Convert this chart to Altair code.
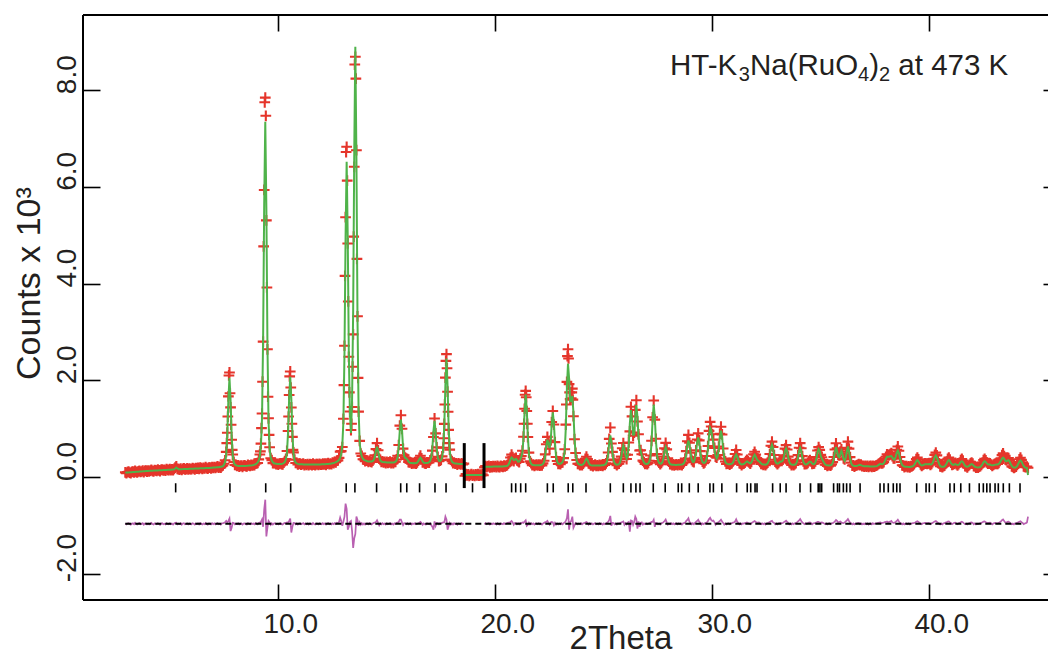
import altair as alt
import pandas as pd

# ---------------- data (counts) ----------------
TT_START = 2.95   # first 2theta of the pattern
TT_STEP = 0.05    # 2theta step of the pattern

# calculated profile, counts; one row per degree (first row 2.95, last row 44.00-44.55)
CALC_ROWS = [
    [85],
    [90, 92, 94, 95, 97, 99, 101, 102, 104, 106, 108, 109, 111, 113, 115, 116, 118, 120, 122, 123],
    [125, 126, 128, 129, 130, 131, 133, 134, 135, 136, 138, 139, 140, 141, 143, 144, 145, 146, 148, 149],
    [150, 151, 152, 153, 156, 175, 196, 177, 161, 159, 160, 161, 162, 163, 164, 165, 166, 167, 168, 169],
    [170, 171, 172, 173, 174, 175, 176, 177, 178, 179, 180, 181, 182, 183, 184, 185, 186, 187, 188, 189],
    [194, 196, 198, 200, 202, 203, 206, 209, 215, 225, 253, 310, 458, 885, 1607, 2051, 1590, 851, 444, 297],
    [258, 241, 234, 228, 228, 225, 226, 226, 227, 228, 229, 231, 234, 235, 237, 239, 241, 245, 254, 262],
    [277, 299, 343, 436, 650, 1221, 2859, 5636, 7346, 5567, 2720, 1154, 585, 408, 338, 302, 282, 276, 274, 268],
    [267, 267, 268, 270, 275, 285, 309, 362, 508, 925, 1635, 2072, 1617, 889, 489, 343, 298, 279, 271, 265],
    [264, 262, 261, 260, 259, 258, 258, 257, 257, 257, 257, 257, 257, 257, 258, 258, 258, 259, 259, 260],
    [262, 263, 264, 265, 266, 268, 270, 272, 275, 278, 284, 290, 297, 306, 318, 333, 354, 393, 474, 659],
    [1153, 2564, 4952, 6520, 4950, 2545, 1313, 910, 1598, 3450, 6715, 8900, 6609, 3243, 1392, 717, 505, 420, 377, 351],
    [342, 334, 326, 320, 320, 320, 321, 329, 351, 420, 535, 625, 531, 410, 343, 319, 311, 307, 305, 303],
    [300, 299, 299, 298, 299, 298, 301, 305, 317, 342, 414, 621, 971, 1187, 966, 611, 432, 390, 386, 357],
    [319, 297, 290, 288, 286, 287, 286, 287, 297, 327, 371, 400, 371, 323, 296, 287, 289, 291, 295, 306],
    [332, 402, 605, 948, 1160, 941, 591, 401, 337, 328, 346, 406, 575, 1068, 1905, 2450, 1883, 1023, 546, 374],
    [318, 296, 285, 278, 276, 273, 271, 270, 268, 267, 267, 265, 40, 40, 40, 40, 40, 40, 40, 40],
    [40, 40, 40, 40, 40, 40, 40, 40, 40, 40, 210, 210, 211, 211, 212, 212, 213, 213, 214, 214],
    [215, 215, 216, 216, 217, 217, 218, 218, 221, 222, 225, 232, 250, 292, 362, 401, 381, 349, 357, 375],
    [352, 316, 317, 359, 418, 513, 813, 1361, 1705, 1404, 845, 478, 332, 273, 251, 246, 241, 241, 242, 242],
    [240, 244, 247, 254, 271, 315, 433, 635, 769, 703, 600, 724, 1096, 1335, 1114, 700, 428, 322, 280, 268],
    [272, 285, 311, 374, 543, 1023, 1847, 2343, 2041, 1569, 1568, 1677, 1336, 811, 476, 340, 284, 263, 252, 250],
    [253, 263, 293, 346, 379, 349, 294, 259, 245, 239, 237, 237, 237, 237, 237, 238, 238, 239, 240, 241],
    [246, 255, 273, 323, 466, 708, 857, 733, 498, 343, 284, 261, 255, 257, 267, 298, 390, 553, 652, 579],
    [447, 381, 433, 673, 1103, 1382, 1194, 874, 877, 1238, 1488, 1248, 833, 608, 533, 440, 353, 299, 277, 270],
    [270, 283, 320, 420, 708, 1195, 1495, 1245, 770, 461, 337, 289, 275, 279, 306, 389, 531, 615, 541, 400],
    [308, 272, 257, 252, 251, 250, 249, 248, 251, 252, 253, 255, 259, 267, 289, 350, 475, 660, 755, 667],
    [482, 362, 311, 314, 374, 510, 716, 816, 716, 510, 372, 308, 289, 291, 321, 405, 580, 853, 1015, 964],
    [822, 703, 571, 440, 385, 427, 587, 835, 955, 829, 570, 395, 311, 281, 271, 265, 265, 266, 275, 297],
    [350, 426, 464, 426, 348, 295, 270, 259, 262, 268, 283, 308, 321, 308, 290, 281, 298, 345, 422, 460],
    [422, 371, 340, 326, 304, 279, 260, 257, 257, 255, 262, 281, 330, 435, 590, 666, 590, 434, 329, 284],
    [275, 283, 305, 319, 321, 340, 413, 535, 593, 529, 400, 312, 272, 256, 252, 252, 254, 269, 312, 402],
    [535, 600, 534, 401, 311, 271, 257, 261, 278, 304, 317, 307, 279, 264, 268, 300, 380, 506, 576, 540],
    [432, 377, 335, 295, 262, 245, 240, 238, 237, 240, 251, 292, 384, 519, 617, 531, 428, 408, 476, 542],
    [467, 369, 334, 403, 534, 630, 527, 386, 286, 245, 233, 228, 226, 228, 235, 244, 252, 243, 233, 225],
    [220, 220, 219, 219, 219, 218, 218, 218, 217, 217, 219, 223, 230, 244, 258, 270, 266, 265, 281, 325],
    [378, 417, 420, 418, 429, 433, 401, 362, 357, 417, 502, 546, 492, 392, 302, 250, 227, 217, 213, 211],
    [209, 208, 208, 212, 214, 224, 246, 284, 325, 346, 325, 283, 251, 236, 240, 252, 261, 262, 261, 262],
    [267, 259, 261, 285, 341, 407, 443, 406, 334, 269, 231, 213, 211, 211, 219, 243, 283, 328, 350, 328],
    [283, 258, 250, 258, 266, 256, 247, 251, 277, 311, 327, 308, 269, 233, 216, 211, 219, 235, 255, 265],
    [255, 233, 214, 203, 198, 196, 200, 209, 229, 264, 305, 325, 310, 281, 260, 258, 258, 245, 240, 240],
    [250, 255, 259, 260, 271, 298, 336, 377, 399, 373, 334, 322, 337, 346, 319, 269, 227, 203, 197, 193],
    [204, 229, 272, 320, 343, 319, 271, 227, 201, 189, 185, 40],
]

# observed minus calculated, counts, same grid
DIFF_ROWS = [
    [10],
    [-12, 8, 15, -5, -18, 4, 11, -9, 20, -3, -14, 6, 17, -8, -2, 13, -16, 5, 9, -11],
    [7, -13, 2, 18, -6, -15, 10, 4, -9, 16, -4, -19, 8, 12, -7, 3, -12, 14, -1, -10],
    [11, -8, 5, -14, 9, 20, 25, -10, 3, -6, 12, -17, 7, 15, -9, -3, 10, -12, 6, -5],
    [-9, 14, 3, -16, 8, -4, 12, -11, 17, 2, -13, 6, -7, 19, -2, -15, 9, 4, -10, 13],
    [-6, 10, -12, 5, 15, -8, 3, -14, 9, 12, 20, 35, 60, 30, 60, 110, -150, -80, 20, 15],
    [-10, 8, -5, 14, -12, 3, 9, -16, 6, 11, -7, -13, 15, 2, -9, 12, -4, 7, -11, 16],
    [5, -10, 20, 30, 40, 90, -60, 300, 500, -260, -80, 60, 30, -20, 10, -15, 8, 12, -9, 4],
    [-12, 7, 15, -6, -14, 9, 20, 10, 30, 25, 60, 110, -180, -60, 20, 15, -8, 10, -13, 6],
    [14, -9, 3, 16, -12, 5, -7, 11, -15, 8, 2, -10, 17, -4, -13, 9, 6, -11, 12, -3],
    [-8, 13, -5, 10, -14, 7, 16, -9, 3, -12, 11, -6, 15, -3, 20, 10, 40, 130, 60, -40],
    [50, 150, 420, 310, -120, -60, 40, 60, -150, -500, -300, -210, 150, 80, -40, 30, -20, 15, -12, 9],
    [-14, 6, 11, -8, 15, -5, -12, 9, 20, 30, 40, 75, 20, -30, 10, -9, 13, -6, 8, -15],
    [12, -7, 4, 17, -11, 6, -14, 9, -3, 20, 25, 40, 90, 90, 30, -25, 15, 10, -8, 13],
    [-10, 5, 14, -13, 8, -4, 16, -9, 3, 12, 25, 40, 15, -20, 9, -6, -12, 11, 4, -8],
    [10, -30, -60, -120, 50, -40, 20, 15, -10, 12, 8, 20, 30, 30, 150, 90, -120, -50, 20, -15],
    [9, -12, 14, -5, 7, -16, 10, 3, -9, 15, -6, 11, -15, 20, -8, 12, -20, 5, 18, -12],
    [10, -18, 15, -6, 20, -14, 8, -10, 16, -5, -11, 14, -7, 9, 18, -13, 5, -9, 12, -4],
    [8, -12, 15, -6, -14, 10, 3, -9, 13, -4, 7, 15, 25, 20, 40, 60, 30, -20, 15, 20],
    [-10, 12, -8, 20, 15, 30, 20, 50, 75, -40, -20, 25, -10, 14, -7, 9, -13, 6, 11, -5],
    [13, -9, 4, -14, 10, 20, 35, 40, 60, 20, -15, 30, 40, 30, -30, 20, -15, 8, -11, 6],
    [-7, 12, -10, 15, 30, 60, 120, 300, -120, 40, 60, 150, -80, -30, 20, 10, -12, 8, -6, 14],
    [-9, 10, 15, 30, 40, 20, -15, 12, -6, 9, -13, 5, 16, -8, 2, -11, 13, -4, 7, -14],
    [11, -6, 9, 25, 40, 80, 165, -40, 20, 15, -10, 8, -12, 14, 6, 20, 30, 40, 50, -20],
    [15, -10, 25, 40, -160, 70, 60, -20, 40, 150, 100, -100, 50, -60, 20, 30, -15, 10, -8, 12],
    [-6, 9, 15, 25, 40, 40, 85, -60, 20, 15, -10, 7, -12, 14, 20, 35, 60, 90, 30, -15],
    [10, -8, 13, -5, 9, -12, 6, 14, -9, 11, -4, 8, -13, 10, 15, 30, 60, 80, 115, 40],
    [20, -10, 12, -8, 20, 40, 60, 85, 40, 25, -15, 10, -6, 12, 20, 30, 60, 100, 125, 80],
    [60, 70, 30, -20, 15, 25, 40, 60, 85, 50, 20, -15, 9, -11, 6, 13, -8, 10, 12, 25],
    [30, 50, 95, 40, 20, -10, 8, -12, 10, 5, 15, 20, 30, 15, 9, -7, 12, 30, 45, 60],
    [40, 20, 25, 30, 10, -8, 11, -6, 9, -13, 7, 15, 25, 40, 55, 65, 30, 20, -10, 8],
    [-12, 10, 15, 20, 12, 18, 35, 50, 65, 40, 20, -10, 7, -9, 12, -5, 10, 15, 30, 50],
    [70, 100, 60, 30, 10, -8, 12, 7, 15, 25, 30, 15, -9, 10, 12, 20, 30, 40, 40, 20],
    [25, 30, 20, 10, -7, 9, -11, 6, 12, -5, 10, 15, 30, 50, 80, 60, 30, 40, 50, 30],
    [20, 15, 30, 50, 70, 100, 60, 25, 10, -9, 8, -12, 6, 10, 15, 20, -6, 11, -10, 7],
    [-8, 12, -5, 9, -13, 6, 10, -11, 14, -4, 7, 12, 15, 20, 25, 30, 15, 20, 25, 35],
    [40, 50, 30, 40, 45, 60, 30, 20, 25, 40, 60, 85, 50, 20, 10, -9, 8, -12, 6, 11],
    [-7, 10, -12, 6, 9, 15, 20, 30, 45, 55, 40, 20, 8, -6, 12, 15, 20, 15, 10, 18],
    [12, -8, 10, 20, 35, 50, 60, 40, 20, 10, -11, 7, -9, 12, 15, 25, 35, 45, 50, 30],
    [15, -6, 10, 20, 25, 10, -8, 12, 20, 35, 45, 30, 10, -9, 6, -12, 10, 15, 25, 30],
    [20, -8, 10, -12, 7, -5, 11, 15, 20, 35, 45, 50, 35, 20, 15, 20, 25, 10, -9, 8],
    [15, 20, 12, 10, 20, 35, 50, 75, 90, 60, 30, 25, 40, 45, 30, 10, -8, 6, -10, 9],
    [12, 20, 35, 45, 55, 35, 20, -6, 8, 15, 30, 150],
]

# extra observed points on the flanks of the strongest reflections
extra_tt = [7.625, 7.675, 7.725, 7.775, 7.825, 7.875,
            9.175, 9.225, 9.275, 9.325, 9.375, 9.425, 9.475, 9.525, 9.575,
            10.475, 10.525, 10.575, 10.625, 10.675,
            13.025, 13.075, 13.125, 13.175, 13.225, 13.275, 13.375, 13.425, 13.475, 13.525, 13.575, 13.625, 13.675,
            17.625, 17.675, 17.725, 17.775, 17.825, 17.875,
            21.325, 21.375, 21.425, 21.475,
            23.275, 23.325, 23.375, 23.425, 23.525, 23.575]
extra_obs = [700, 1250, 2100, 1730, 1080, 560,
             530, 1010, 1970, 4770, 7750, 7470, 3920, 1660, 870,
             1250, 2080, 1850, 1100, 560,
             1900, 4160, 6720, 6130, 3630, 1750, 1100, 2280, 4970, 8530, 8240, 4510, 2050,
             800, 1500, 2400, 2250, 1350, 700,
             1100, 1700, 1650, 1100,
             1500, 2500, 2450, 1750, 1750, 1600]

# reflection positions (2theta)
refl_tt = [5.27, 7.77, 9.42, 10.57, 13.13, 13.53, 14.53, 15.64, 15.92, 16.51, 17.22, 17.73, 18.95,
           20.75, 20.94, 21.17, 21.40, 22.40, 22.67, 23.36, 23.57, 24.18, 25.30, 25.90, 26.25, 26.48,
           26.67, 27.28, 27.83, 28.43, 28.59, 28.94, 29.35, 29.89, 30.05, 30.44, 31.12, 31.61, 31.77,
           31.97, 32.06, 32.78, 33.13, 33.40, 34.04, 34.53, 34.88, 34.96, 35.04, 35.59, 35.77, 35.86,
           36.04, 36.19, 36.35, 36.81, 37.73, 37.91, 38.11, 38.34, 38.50, 38.65, 39.42, 39.85, 40.00,
           40.27, 40.95, 41.15, 41.45, 41.85, 42.30, 42.49, 42.65, 42.80, 43.03, 43.18, 43.41, 43.69, 44.18]

excl_tt = [18.57, 19.48]          # limits of the excluded region
x_ticks = [10, 20, 30, 40]
y_ticks = [-2, 0, 2, 4, 6, 8]

# ---------------- layout constants ----------------
X_MIN, X_MAX = 1.0, 45.47
Y_MIN, Y_MAX = -2.545, 9.555
DIFF_OFFSET = -0.97
TICK_TOP, TICK_BOT = -0.13, -0.32
EXCL_TOP, EXCL_BOT = 0.70, -0.23
ZERO_START, ZERO_END = 2.95, 44.30

FONT = "Liberation Sans"
TXT = "#231f20"
RED = "#e5352b"
GREEN = "#4fb34a"
MAG = "#b960b1"
PLUS = "M-1,0L1,0M0,-1L0,1"

# ---------------- build tables ----------------
for i, row in enumerate(CALC_ROWS[1:-1]):
    if len(row) != 20 or len(DIFF_ROWS[i + 1]) != 20:
        raise ValueError(f"row {i+1} length {len(row)} / {len(DIFF_ROWS[i+1])}")
y_calc = [v for r in CALC_ROWS for v in r]
y_diff = [v for r in DIFF_ROWS for v in r]
if len(y_calc) != len(y_diff):
    raise ValueError("length mismatch")

tt = [round(TT_START + i * TT_STEP, 3) for i in range(len(y_calc))]
main = pd.DataFrame({
    "tt": tt,
    "calc": [c / 1000 for c in y_calc],
    "obs": [(c + d) / 1000 for c, d in zip(y_calc, y_diff)],
    "diff": [d / 1000 + DIFF_OFFSET for d in y_diff],
})
main["seg"] = ["in" if excl_tt[0] < t < excl_tt[1] else ("a" if t <= excl_tt[0] else "b") for t in tt]
obs_df = pd.concat([main[["tt", "obs"]],
                    pd.DataFrame({"tt": extra_tt, "obs": [v / 1000 for v in extra_obs]})],
                   ignore_index=True)
diff_df = main[main["seg"] != "in"]

xs = alt.Scale(domain=[X_MIN, X_MAX], nice=False, zero=False)
ys = alt.Scale(domain=[Y_MIN, Y_MAX], nice=False, zero=False)

ax_common = dict(domain=False, grid=False, tickColor="black", tickWidth=1.6, title=None)
x_bottom = alt.Axis(orient="bottom", values=x_ticks, format=".1f", offset=-16, tickSize=16,
                    labelFont=FONT, labelFontSize=28, labelColor=TXT, labelPadding=10,
                    labelOffset=12, labelOverlap=False, labelFlush=False, **ax_common)
y_left = alt.Axis(orient="left", values=y_ticks, offset=-17, tickSize=17,
                  labelExpr="replace(format(datum.value, '.1f'), '\u2212', '-')",
                  labelFont=FONT, labelFontSize=28, labelColor=TXT, labelAngle=270,
                  labelAlign="center", labelBaseline="alphabetic", labelPadding=8,
                  labelOffset=-16, labelOverlap=False, labelFlush=False, **ax_common)
x_top = alt.Axis(orient="top", values=x_ticks, labels=False, offset=-16, tickSize=16, **ax_common)
y_right = alt.Axis(orient="right", values=y_ticks, labels=False, offset=-5, tickSize=5, **ax_common)


def X(field, axis=None):
    return alt.X(field, type="quantitative", scale=xs, axis=axis)


def Y(field, axis=None):
    return alt.Y(field, type="quantitative", scale=ys, axis=axis)


obs_layer = alt.Chart(obs_df).mark_point(
    shape=PLUS, filled=False, size=115, strokeWidth=2.1, color=RED, opacity=1
).encode(x=X("tt", x_bottom), y=Y("obs", y_left))

calc_layer = alt.Chart(main).mark_line(color=GREEN, strokeWidth=2).encode(
    x=X("tt", x_top), y=Y("calc", y_right))

diff_layer = alt.Chart(diff_df).mark_line(color=MAG, strokeWidth=1.7).encode(
    x=X("tt"), y=Y("diff"), detail="seg:N")

zero_layer = alt.Chart(pd.DataFrame({"x": [ZERO_START], "x2": [ZERO_END], "y": [DIFF_OFFSET]})).mark_rule(
    color="black", strokeWidth=2, strokeDash=[6, 4]
).encode(x=X("x"), x2="x2:Q", y=Y("y"))

refl_layer = alt.Chart(pd.DataFrame({"tt": refl_tt, "y": TICK_TOP, "y2": TICK_BOT})).mark_rule(
    color="black", strokeWidth=1.6
).encode(x=X("tt"), y=Y("y"), y2="y2:Q")

excl_layer = alt.Chart(pd.DataFrame({"tt": excl_tt, "y": EXCL_TOP, "y2": EXCL_BOT})).mark_rule(
    color="black", strokeWidth=3
).encode(x=X("tt"), y=Y("y"), y2="y2:Q")

frame_df = pd.DataFrame({
    "x": [X_MIN, X_MIN, X_MIN], "x2": [X_MIN, X_MAX, X_MAX],
    "y": [Y_MIN, Y_MAX, Y_MIN], "y2": [Y_MAX, Y_MAX, Y_MIN],
})
frame_layer = alt.Chart(frame_df).mark_rule(color="black", strokeWidth=2).encode(
    x=X("x"), x2="x2:Q", y=Y("y"), y2="y2:Q")

# ---------------- texts ----------------
AW = {'H': 722, 'T': 611, '-': 333, 'K': 667, 'N': 722, 'a': 556, '(': 333, 'R': 722, 'u': 556,
      'O': 778, ')': 333, ' ': 278, 't': 278, '4': 556, '7': 556, '3': 556, '2': 556}
MAIN_FS, SUB_FS, SUB_DY = 29.5, 20, 6
pieces = [("HT-K", False), ("3", True), ("Na(RuO", False), ("4", True), (")", False), ("2", True),
          (" at 473 K", False)]
ANN_X, ANN_Y = 28.05, 8.31

ann_layers = []
cur = 0.0
for txt, sub in pieces:
    fs = SUB_FS if sub else MAIN_FS
    lead = 0.0
    shown = txt
    if txt.startswith(" "):
        lead = AW[' '] * fs / 1000
        shown = txt.strip()
    ann_layers.append(
        alt.Chart(pd.DataFrame({"x": [ANN_X], "y": [ANN_Y], "t": [shown]})).mark_text(
            align="left", baseline="alphabetic", font=FONT, fontSize=fs, color=TXT,
            dx=cur + lead, dy=SUB_DY if sub else 0
        ).encode(x=X("x"), y=Y("y"), text="t:N")
    )
    cur += sum(AW[c] for c in txt) * fs / 1000

ytitle = alt.Chart(pd.DataFrame({"x": [-0.98], "y": [4.0], "t": ["Counts x 10\u00b3"]})).mark_text(
    align="center", baseline="alphabetic", angle=270, font=FONT, fontSize=34, color=TXT
).encode(x=X("x"), y=Y("y"), text="t:N")

xtitle = alt.Chart(pd.DataFrame({"x": [25.79], "y": [-3.56], "t": ["2Theta"]})).mark_text(
    align="center", baseline="alphabetic", font=FONT, fontSize=33, color=TXT
).encode(x=X("x"), y=Y("y"), text="t:N")

chart = alt.layer(
    obs_layer, calc_layer, diff_layer, zero_layer, refl_layer, excl_layer, frame_layer,
    *ann_layers, ytitle, xtitle
).resolve_axis(x="independent", y="independent").properties(
    width=965, height=585,
    padding={"left": 83, "top": 15, "right": 0, "bottom": 57},
    autosize=alt.AutoSizeParams(type="none"),
).configure_view(strokeWidth=0).configure(font=FONT, background="white")

chart.save("out.html", embed_options={"renderer": "svg", "actions": False})
